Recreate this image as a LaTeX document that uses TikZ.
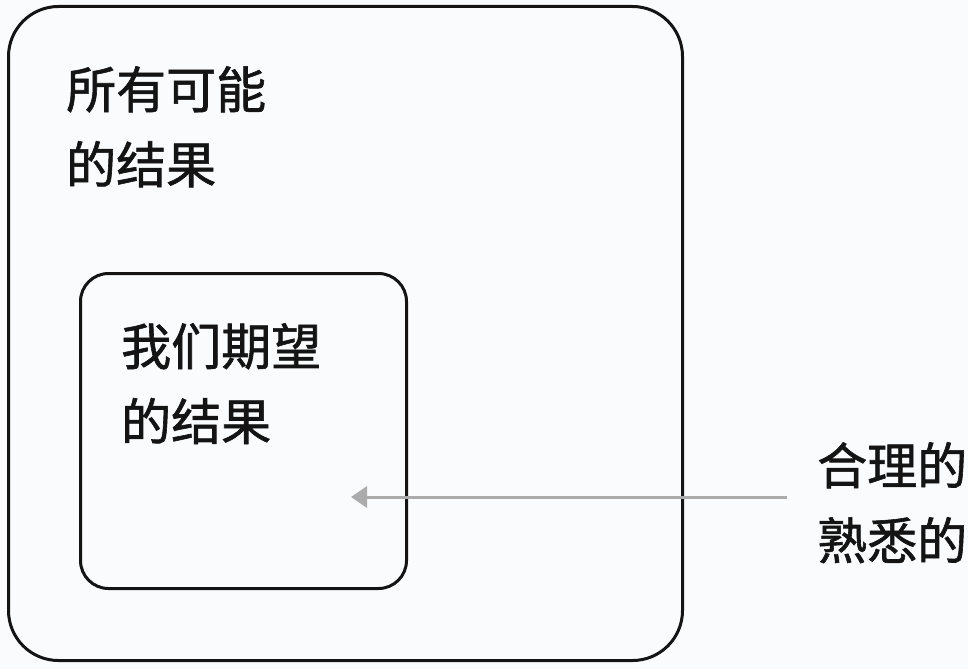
\documentclass[tikz,border=0pt]{standalone}
\usepackage{fontspec}
\newfontfamily\cjk[FakeBold=1.2]{Noto Sans CJK SC}
\usetikzlibrary{arrows.meta}
\definecolor{bgc}{HTML}{FAFBFC}
\definecolor{linec}{HTML}{141414}
\definecolor{arrowc}{HTML}{ABABAB}
\tikzset{
  box/.style={draw=linec, line width=3pt, inner sep=0pt, anchor=north west},
  label/.style={inner sep=0pt, anchor=north west, align=left, text=linec,
    font=\cjk\fontsize{50}{75}\selectfont},
  pointer/.style={draw=arrowc, line width=3pt, -{Triangle[length=16pt,width=21pt]}}
}
\begin{document}
\begin{tikzpicture}[x=1pt,y=-1pt]
\useasboundingbox (0,0) rectangle (968,669);
\fill[bgc] (0,0) rectangle (968,669);
\node[box, rounded corners=50pt, minimum width=674pt, minimum height=654pt] (outer) at (7,5) {};
\node[box, rounded corners=28pt, minimum width=326pt, minimum height=315pt] (inner) at (79,272) {};
\node[label] (outertext) at (66,66) {所有可能\\的结果};
\node[label] (innertext) at (121,323) {我们期望\\的结果};
\node[label] (righttext) at (817,442) {合理的\\熟悉的};
\coordinate (arrowstart) at (787,497);
\coordinate (arrowend) at (351,497);
\draw[pointer] (arrowstart) -- (arrowend);
\end{tikzpicture}
\end{document}
